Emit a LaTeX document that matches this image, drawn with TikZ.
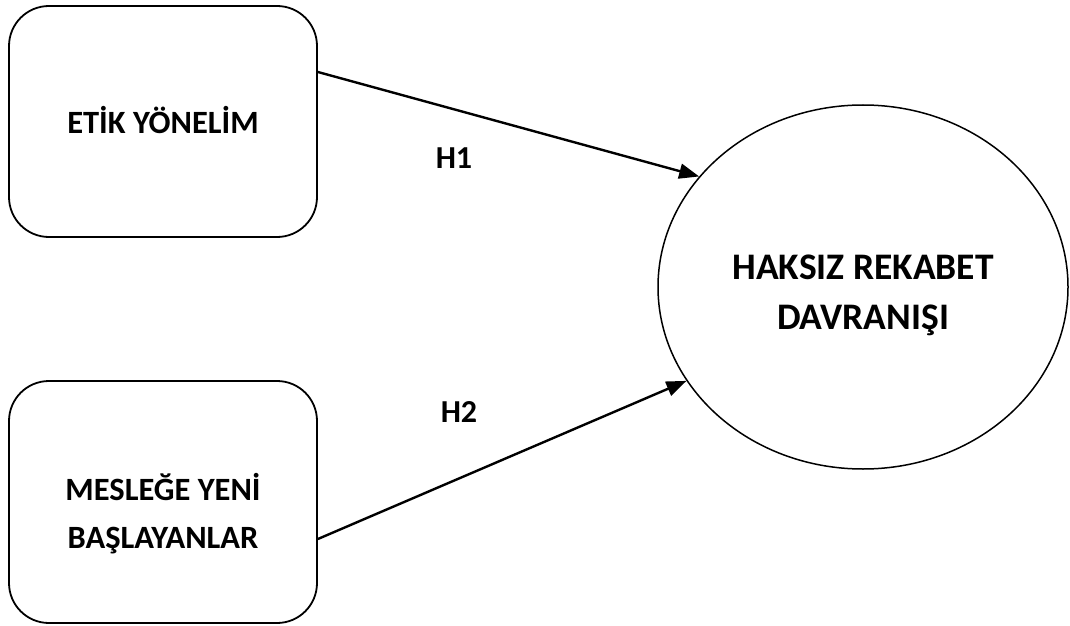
\documentclass[tikz,border=0pt]{standalone}
\usepackage{fontspec}
\setmainfont{Carlito}
\usetikzlibrary{shapes.geometric, arrows.meta, positioning}

\tikzset{
  kutu/.style={draw, line width=1.8pt, rounded corners=40pt, minimum width=308pt},
  kutuyazi/.style={align=center, font=\fontsize{32.5}{48}\selectfont\bfseries},
  hedef/.style={draw, ellipse, line width=1.5pt, minimum width=410pt, minimum height=364pt, inner sep=0pt},
  hedefyazi/.style={align=center, font=\fontsize{37.5}{50}\selectfont\bfseries},
  ok/.style={line width=2.4pt, -{Triangle[length=20pt,width=15pt]}},
  etiket/.style={font=\fontsize{32}{36}\selectfont\bfseries}
}

\begin{document}
\begin{tikzpicture}[x=1pt, y=1pt]
\useasboundingbox (0,0) rectangle (1070,625);

% Left boxes
\node[kutu, minimum height=231pt] (etik) at (163,503.5) {};
\node[kutu, minimum height=242pt] (meslek) at (163,123) {};
\node[kutuyazi] (etikyazi) at ([yshift=1pt]etik.center) {ETİK YÖNELİM};
\node[kutuyazi] (meslekyazi) at ([yshift=-12pt]meslek.center) {MESLEĞE YENİ\\BAŞLAYANLAR};

% Right ellipse
\node[hedef] (haksiz) at (863,338) {};
\node[hedefyazi] (haksizyazi) at ([yshift=-8pt]haksiz.center) {HAKSIZ REKABET\\DAVRANIŞI};

% Arrows
\draw[ok] ([yshift=49.5pt]etik.east) -- (haksiz.146);
\draw[ok] ([yshift=-37pt]meslek.east) -- (haksiz.208);

% Labels
\node[etiket] (h1) at (454,467) {H1};
\node[etiket] (h2) at (459,213) {H2};

\end{tikzpicture}
\end{document}
